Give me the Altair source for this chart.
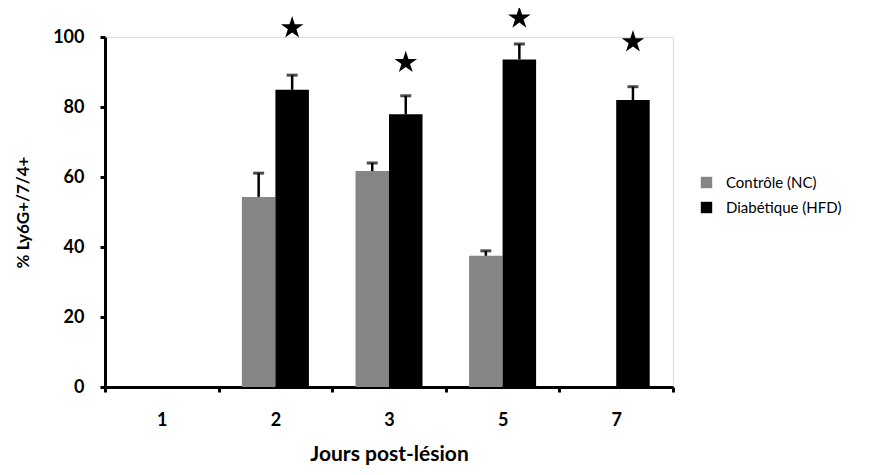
import altair as alt
import pandas as pd

days = ["1", "2", "3", "5", "7"]
series_names = ["Contrôle (NC)", "Diabétique (HFD)"]

# Bars present in the figure (day, series, mean, error top)
bar_days = ["2", "2", "3", "3", "5", "5", "7"]
bar_series = ["Contrôle (NC)", "Diabétique (HFD)", "Contrôle (NC)", "Diabétique (HFD)",
              "Contrôle (NC)", "Diabétique (HFD)", "Diabétique (HFD)"]
bar_values = [54.3, 84.9, 61.7, 77.9, 37.5, 93.6, 82.0]
err_tops = [61.1, 89.1, 64.0, 83.2, 38.9, 98.0, 85.8]

star_days = ["2", "3", "5", "7"]
star_values = [102.6, 92.7, 105.4, 98.6]

bars = pd.DataFrame({"day": bar_days, "series": bar_series,
                     "value": bar_values, "err": err_tops})
stars = pd.DataFrame({"day": star_days, "series": ["Diabétique (HFD)"] * 4,
                      "value": star_values})

FONT = "Lato"
STAR = ("M0,-1L0.2245,-0.309L0.951,-0.309L0.363,0.118L0.588,0.809L0,0.382"
        "L-0.588,0.809L-0.363,0.118L-0.951,-0.309L-0.2245,-0.309Z")

x_scale = alt.Scale(domain=days, paddingInner=0, paddingOuter=0)
x_enc = alt.X("day:N", sort=days, scale=x_scale,
              axis=alt.Axis(title="Jours post-lésion", labelAngle=0, tickBand="extent",
                            labelFontSize=18, labelFontWeight="bold", labelColor="black",
                            labelPadding=19, titleFontSize=21, titleFontWeight="bold",
                            titlePadding=14, titleColor="black",
                            domainWidth=3, domainColor="black", tickWidth=3,
                            tickColor="black", tickSize=5, labelFont=FONT, titleFont=FONT))
xo_enc = alt.XOffset("series:N",
                     scale=alt.Scale(domain=series_names, paddingInner=0, paddingOuter=0.695))
x_plain = alt.X("day:N", sort=days, scale=x_scale)

color_enc = alt.Color("series:N",
                      scale=alt.Scale(domain=series_names, range=["#858585", "#000000"]),
                      legend=alt.Legend(title=None, orient="none", legendX=594, legendY=138,
                                        symbolType="square", symbolSize=130,
                                        symbolStrokeWidth=0, labelFontSize=15,
                                        labelFont=FONT, labelColor="black",
                                        rowPadding=9, padding=0, labelOffset=12))

y_scale = alt.Scale(domain=[0, 100])

bar_layer = alt.Chart(bars).mark_bar().encode(
    x=x_enc, xOffset=xo_enc,
    y=alt.Y("value:Q", scale=y_scale,
            axis=alt.Axis(title="% Ly6G+/7/4+", values=[0, 20, 40, 60, 80, 100],
                          grid=False, labelFontSize=18, labelFontWeight="bold",
                          labelColor="black", labelPadding=16, titleFontSize=17,
                          titleFontWeight="bold", titleColor="black", titlePadding=20,
                          domainWidth=3, domainColor="black", tickWidth=3,
                          tickColor="black", tickSize=5, labelFont=FONT, titleFont=FONT)),
    color=color_enc,
)

err_rule = alt.Chart(bars).mark_rule(color="black", strokeWidth=2.5).encode(
    x=x_plain, xOffset=xo_enc,
    y=alt.Y("value:Q", scale=y_scale), y2="err:Q",
)

err_cap = alt.Chart(bars).mark_tick(color="black", orient="horizontal", size=11,
                                    thickness=3).encode(
    x=x_plain, xOffset=xo_enc,
    y=alt.Y("err:Q", scale=y_scale),
)

star_layer = alt.Chart(stars).mark_point(shape=STAR, size=560, filled=True, color="black",
                                         opacity=1, clip=False).encode(
    x=x_plain, xOffset=xo_enc,
    y=alt.Y("value:Q", scale=y_scale),
)

chart = alt.layer(bar_layer, err_rule, err_cap, star_layer).properties(
    width=568, height=350,
    autosize=alt.AutoSizeParams(type="none"),
    padding={"left": 97, "top": 29, "right": 193, "bottom": 80},
).configure_view(stroke=None).configure(background="white")

chart.save("out.html", embed_options={"renderer": "svg", "actions": False})
